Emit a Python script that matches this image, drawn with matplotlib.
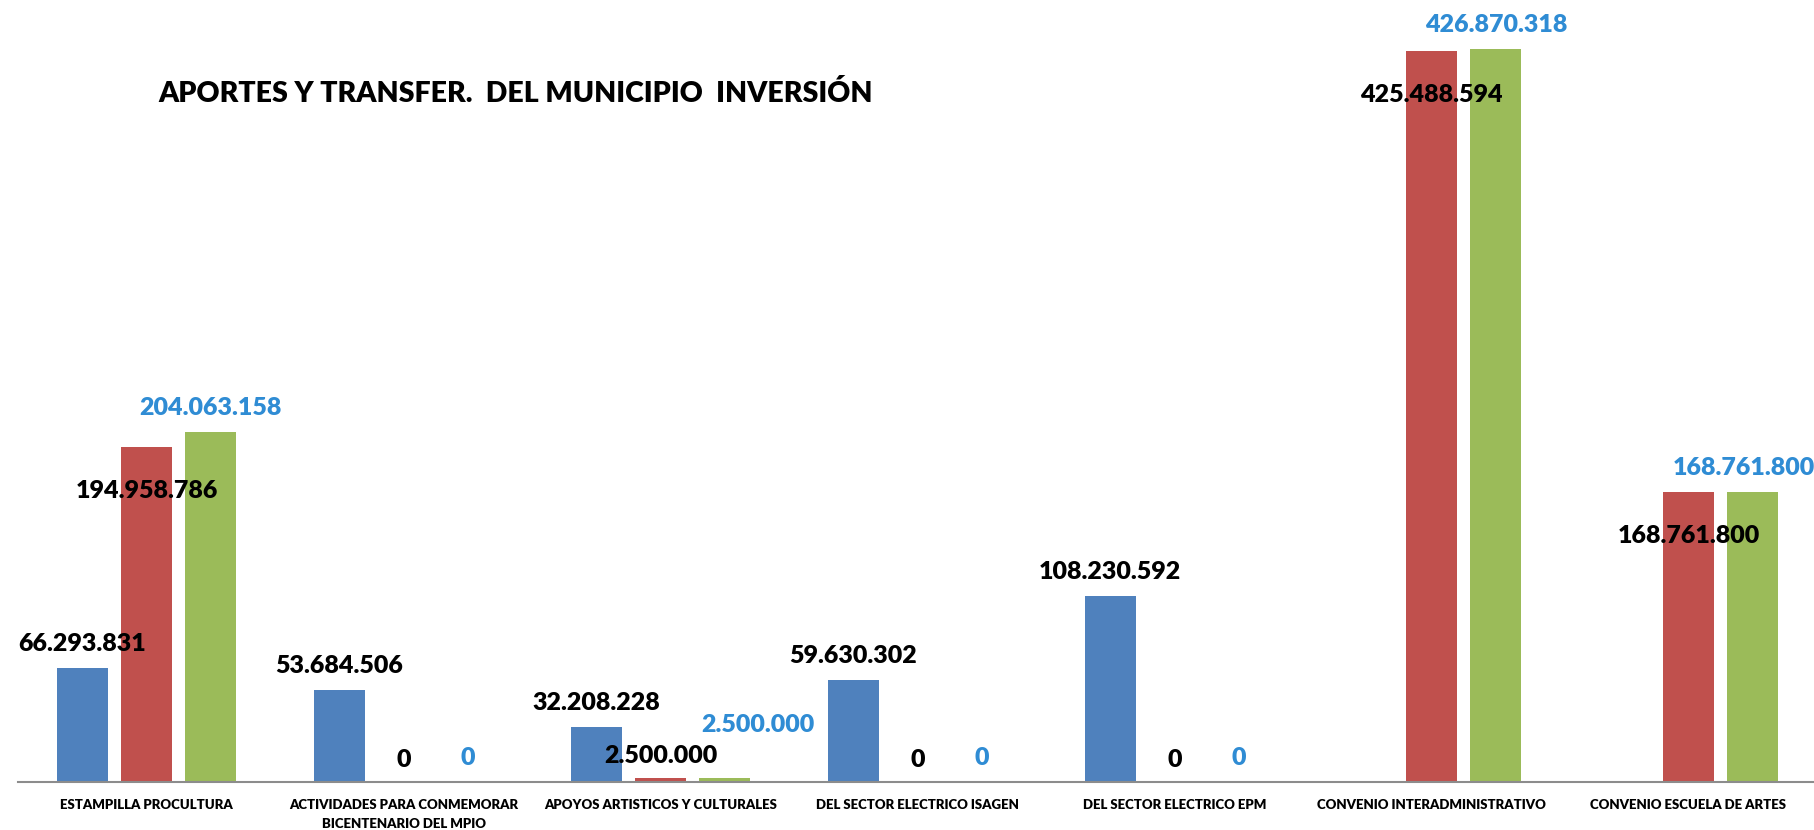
import numpy as np
import matplotlib
matplotlib.use("Agg")
import matplotlib.pyplot as plt

categories = [
    "ESTAMPILLA PROCULTURA",
    "ACTIVIDADES PARA CONMEMORAR\nBICENTENARIO DEL MPIO",
    "APOYOS ARTISTICOS Y CULTURALES",
    "DEL SECTOR ELECTRICO ISAGEN",
    "DEL SECTOR ELECTRICO EPM",
    "CONVENIO INTERADMINISTRATIVO",
    "CONVENIO ESCUELA DE ARTES",
]
serie_azul = [66293831, 53684506, 32208228, 59630302, 108230592, np.nan, np.nan]
serie_roja = [194958786, 0, 2500000, 0, 0, 425488594, 168761800]
serie_verde = [204063158, 0, 2500000, 0, 0, 426870318, 168761800]
title = "APORTES Y TRANSFER.  DEL MUNICIPIO  INVERSIÓN"

def fmt(v):
    return f"{int(v):,}".replace(",", ".")

W, H, DPI = 1814, 830, 100
fig = plt.figure(figsize=(W / DPI, H / DPI), dpi=DPI)
plt.rcParams['font.family'] = ['Lato', 'DejaVu Sans']

ax = fig.add_axes([18 / W, 48 / H, 1799 / W, 782 / H])
ax.set_xlim(-0.5, 6.5)
ax.set_ylim(0, 782 / 1.717 * 1e6)

x = np.arange(len(categories))
bw, step = 0.2, 0.25
colors = ['#4F81BD', '#C0504D', '#9BBB59']
series = [serie_azul, serie_roja, serie_verde]
for i, (s, c) in enumerate(zip(series, colors)):
    vals = np.array(s, dtype=float)
    ax.bar(x + (i - 1) * step, np.nan_to_num(vals), width=bw, color=c, zorder=2)

px = 72 / DPI  # points per pixel
label_kw = dict(fontsize=18, fontweight='heavy', ha='center', va='center',
                textcoords='offset points', annotation_clip=False)

# blue labels: above bar, black
for xi, v in zip(x, serie_azul):
    if np.isnan(v):
        continue
    ax.annotate(fmt(v), (xi - step, v), xytext=(0, 24 * px), color='black', **label_kw)

# red labels: inside end for large bars, above otherwise
for xi, v in zip(x, serie_roja):
    dy = -44 if v > 100e6 else 22
    ax.annotate(fmt(v), (xi, v), xytext=(0, dy * px), color='black', **label_kw)

# green labels: above, blue text
nudge = {2: (33, 53)}
for xi, v in zip(x, serie_verde):
    dx, dy = nudge.get(xi, (0, 24))
    kw = dict(label_kw)
    if xi == len(categories) - 1:
        kw['ha'] = 'right'
        ax.annotate(fmt(v), (6.5, v), xytext=(-2 * px, dy * px), color='#2F8CD4', **kw)
    else:
        ax.annotate(fmt(v), (xi + step, v), xytext=(dx * px, dy * px), color='#2F8CD4', **kw)

for sp in ['top', 'right', 'left']:
    ax.spines[sp].set_visible(False)
ax.spines['bottom'].set_color('#8C8C8C')
ax.spines['bottom'].set_linewidth(1.5)
ax.set_yticks([])
ax.set_xticks(x)
ax.set_xticklabels(categories, fontsize=9.5, fontweight='heavy', linespacing=1.7)
ax.tick_params(axis='x', length=0, pad=12)

fig.text(158 / W, 1 - 93 / H, title, fontsize=20.5, fontweight='heavy', ha='left', va='center')

fig.savefig("out.png", dpi=DPI)
